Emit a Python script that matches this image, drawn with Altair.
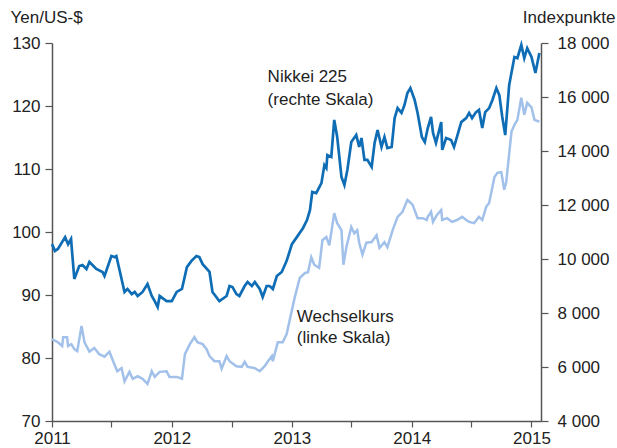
import altair as alt
import pandas as pd

FONT = "Liberation Sans"

nikkei_dates = [
    "2011-01-01","2011-01-10","2011-01-19","2011-02-10","2011-02-19","2011-02-28","2011-03-10","2011-03-25","2011-04-04","2011-04-16",
    "2011-04-25","2011-05-16","2011-06-04","2011-06-10","2011-07-01","2011-07-10","2011-07-16","2011-08-10","2011-08-19","2011-09-01",
    "2011-09-10","2011-09-19","2011-10-04","2011-10-19","2011-11-01","2011-11-10","2011-11-19","2011-11-25","2011-12-16","2012-01-01",
    "2012-01-16","2012-02-01","2012-02-16","2012-03-01","2012-03-16","2012-03-25","2012-04-04","2012-04-25","2012-05-04","2012-05-25",
    "2012-06-16","2012-06-25","2012-07-04","2012-07-16","2012-07-25","2012-08-10","2012-08-19","2012-09-01","2012-09-10","2012-09-25",
    "2012-10-04","2012-10-16","2012-10-25","2012-11-04","2012-11-16","2012-12-01","2012-12-16","2013-01-01","2013-01-16","2013-02-04",
    "2013-02-16","2013-02-25","2013-03-04","2013-03-16","2013-04-01","2013-04-10","2013-04-16","2013-04-19","2013-05-01","2013-05-10",
    "2013-05-19","2013-06-01","2013-06-10","2013-06-19","2013-07-01","2013-07-16","2013-07-25","2013-08-01","2013-08-10","2013-08-19",
    "2013-09-01","2013-09-10","2013-09-19","2013-10-01","2013-10-10","2013-10-19","2013-11-01","2013-11-10","2013-11-19","2013-12-01",
    "2013-12-10","2013-12-19","2013-12-28","2014-01-10","2014-01-19","2014-02-01","2014-02-10","2014-02-19","2014-03-01","2014-03-07",
    "2014-03-16","2014-04-01","2014-04-04","2014-04-16","2014-05-01","2014-05-10","2014-05-19","2014-06-01","2014-06-16","2014-06-25",
    "2014-07-04","2014-07-16","2014-07-25","2014-08-04","2014-08-13","2014-08-25","2014-09-04","2014-09-16","2014-09-25","2014-10-04",
    "2014-10-13","2014-10-25","2014-11-10","2014-11-19","2014-12-01","2014-12-10","2014-12-19","2015-01-01","2015-01-13","2015-01-25",
]
nikkei_values = [
    10550,10300,10370,10810,10550,10740,9260,9740,9780,9630,
    9890,9630,9520,9370,10110,10070,10110,8780,8890,8700,
    8780,8630,8780,9070,8630,8440,8220,8630,8440,8440,
    8780,8890,9700,9930,10110,10070,9810,9520,8780,8440,
    8630,9000,8960,8700,8630,9000,9150,9000,9150,8890,
    8590,9000,9000,8890,9370,9520,9930,10550,10810,11150,
    11440,11810,12480,12440,12810,13480,13370,13850,13780,15150,
    14520,13040,12740,13300,14330,14590,14150,14480,13670,13670,
    13410,14300,14780,14150,14520,14110,14150,15220,15590,15410,
    15700,16150,16330,15890,15410,14520,14330,14850,15260,14670,
    14300,15070,14040,14480,14410,14150,14520,15070,15220,15410,
    15220,15440,15520,14850,15440,15590,15890,16330,16070,15260,
    14590,16440,17480,17440,17930,17440,17810,17480,16890,17630,
]

fx_dates = [
    "2011-01-01","2011-01-19","2011-02-01","2011-02-04","2011-02-16","2011-02-19","2011-03-01","2011-03-10","2011-03-19","2011-04-01",
    "2011-04-10","2011-04-25","2011-05-10","2011-05-25","2011-06-10","2011-06-25","2011-07-10","2011-07-19","2011-08-01","2011-08-10",
    "2011-08-25","2011-09-04","2011-09-19","2011-10-04","2011-10-19","2011-11-01","2011-11-10","2011-11-25","2011-12-16","2011-12-25",
    "2012-01-16","2012-02-01","2012-02-10","2012-02-25","2012-03-10","2012-03-19","2012-04-04","2012-04-16","2012-04-25","2012-05-10",
    "2012-05-25","2012-06-01","2012-06-16","2012-06-25","2012-07-16","2012-08-01","2012-08-10","2012-08-19","2012-09-10","2012-09-25",
    "2012-10-10","2012-10-19","2012-11-01","2012-11-04","2012-11-19","2012-12-04","2012-12-16","2013-01-01","2013-01-10","2013-01-25",
    "2013-02-10","2013-02-19","2013-03-01","2013-03-10","2013-03-25","2013-04-04","2013-04-16","2013-04-25","2013-05-10","2013-05-19",
    "2013-06-01","2013-06-07","2013-06-16","2013-07-01","2013-07-10","2013-07-19","2013-07-25","2013-08-04","2013-08-16","2013-09-01",
    "2013-09-16","2013-09-25","2013-10-10","2013-10-19","2013-11-04","2013-11-19","2013-12-04","2013-12-19","2013-12-25","2014-01-04",
    "2014-01-19","2014-02-04","2014-02-16","2014-02-19","2014-03-01","2014-03-07","2014-03-19","2014-04-01","2014-04-04","2014-04-19",
    "2014-05-04","2014-05-19","2014-06-04","2014-06-16","2014-06-25","2014-07-10","2014-07-25","2014-08-04","2014-08-16","2014-08-25",
    "2014-09-10","2014-09-19","2014-10-01","2014-10-10","2014-10-16","2014-11-01","2014-11-10","2014-11-19","2014-12-01","2014-12-10",
    "2014-12-19","2015-01-01","2015-01-10","2015-01-25",
]
fx_values = [
    83.0,82.5,81.9,83.3,83.3,81.9,82.2,81.4,81.1,85.1,
    82.5,81.0,81.6,80.6,80.2,81.0,79.0,77.9,78.4,76.3,
    77.8,76.7,77.1,76.7,75.9,77.9,77.0,77.8,77.9,77.0,
    77.0,76.7,80.6,82.2,83.3,82.5,82.2,81.4,80.3,79.5,
    79.5,78.3,80.3,79.5,78.7,78.6,79.4,78.6,78.4,77.9,
    78.7,79.4,80.3,79.5,82.5,82.5,83.8,87.6,89.7,92.7,
    93.5,93.6,96.0,94.8,94.3,98.7,99.2,97.9,103.0,101.4,
    100.3,94.8,97.6,100.8,99.8,100.3,98.3,96.4,98.3,98.4,
    99.5,97.5,98.4,97.6,100.3,102.4,103.2,105.1,104.8,104.3,
    102.2,102.2,101.9,102.4,103.2,101.6,102.7,103.5,101.9,102.2,
    101.6,101.9,102.4,101.9,101.6,101.4,102.4,101.9,104.0,104.6,
    108.7,109.4,109.5,106.7,107.9,115.9,117.0,117.8,121.3,118.6,
    120.5,119.8,117.8,117.5,
]

left_ticks = [70, 80, 90, 100, 110, 120, 130]
right_ticks = [4000, 6000, 8000, 10000, 12000, 14000, 16000, 18000]

nikkei_label_lines = ["Nikkei 225", "(rechte Skala)"]
nikkei_label_dates = ["2012-10-19", "2012-10-19"]
nikkei_label_vals = [16555, 15704]

fx_label_lines = ["Wechselkurs", "(linke Skala)"]
fx_label_dates = ["2013-01-16", "2013-01-16"]
fx_label_vals = [85.7, 82.4]

nikkei_df = pd.DataFrame({"date": nikkei_dates, "value": nikkei_values})
fx_df = pd.DataFrame({"date": fx_dates, "value": fx_values})
nk_lab = pd.DataFrame({"date": nikkei_label_dates, "value": nikkei_label_vals, "text": nikkei_label_lines})
fx_lab = pd.DataFrame({"date": fx_label_dates, "value": fx_label_vals, "text": fx_label_lines})

AX = "#555555"
TXT = "#222222"

half_years = []
for yr in range(2011, 2016):
    half_years.append(alt.DateTime(year=yr, month=1, date=1, utc=True))
    if yr < 2015:
        half_years.append(alt.DateTime(year=yr, month=7, date=1, utc=True))

xscale = alt.Scale(type="utc", domain=[alt.DateTime(year=2011, month=1, date=1, utc=True),
                                       alt.DateTime(year=2015, month=1, date=30, utc=True)])
xaxis = alt.Axis(values=half_years, labelExpr="utcmonth(datum.value) == 0 ? utcFormat(datum.value, '%Y') : ''",
                 title=None, grid=False, tickSize=6, labelPadding=3, domainColor=AX, tickColor=AX,
                 labelFontSize=17, labelColor=TXT, labelFont=FONT, labelFlush=False, labelOverlap=False,
                 domainWidth=1.5, tickWidth=1.2)

x_enc = alt.X("date:T", scale=xscale, axis=xaxis)

left_y = alt.Y("value:Q", scale=alt.Scale(domain=[70, 130], nice=False, zero=False),
               axis=alt.Axis(orient="left", values=left_ticks, title="Yen/US-$", titleAngle=0,
                             titleAlign="left", titleBaseline="alphabetic", titleX=-42, titleY=-21,
                             titleFontSize=17, titleFontWeight="normal", titleFont=FONT, titleColor=TXT,
                             grid=False, tickSize=7, labelPadding=5, domainColor=AX, tickColor=AX,
                             labelFontSize=17, labelColor=TXT, labelFont=FONT, domainWidth=1.5, tickWidth=1.2))

right_y = alt.Y("value:Q", scale=alt.Scale(domain=[4000, 18000], nice=False, zero=False),
                axis=alt.Axis(orient="right", values=right_ticks,
                              labelExpr="replace(format(datum.value, ',.0f'), ',', ' ')",
                              title="Indexpunkte", titleAngle=0,
                              titleAlign="right", titleBaseline="alphabetic", titleX=74, titleY=-21,
                              titleFontSize=17, titleFontWeight="normal", titleFont=FONT, titleColor=TXT,
                              grid=False, tickSize=7, labelPadding=9, domainColor=AX, tickColor=AX,
                              labelFontSize=17, labelColor=TXT, labelFont=FONT, domainWidth=1.5, tickWidth=1.2))

fx_line = alt.Chart(fx_df).mark_line(color="#a2c1ea", strokeWidth=2.5).encode(x=x_enc, y=left_y)
fx_text = alt.Chart(fx_lab).mark_text(align="left", baseline="alphabetic", fontSize=17, font=FONT,
                                      color=TXT).encode(x=x_enc, y=left_y, text="text:N")
nk_line = alt.Chart(nikkei_df).mark_line(color="#0f6db5", strokeWidth=2.7).encode(x=x_enc, y=right_y)
nk_text = alt.Chart(nk_lab).mark_text(align="left", baseline="alphabetic", fontSize=17, font=FONT,
                                      color=TXT).encode(x=x_enc, y=right_y, text="text:N")

left_group = alt.layer(fx_line, fx_text)
right_group = alt.layer(nk_line, nk_text)

chart = alt.layer(left_group, right_group).resolve_scale(y="independent").properties(
    width=489, height=378,
    autosize=alt.AutoSizeParams(type="none"),
    padding={"left": 52, "top": 43, "right": 76, "bottom": 27},
    background="white",
).configure_view(stroke=None)

chart.save("out.html", embed_options={"renderer": "svg", "actions": False})
